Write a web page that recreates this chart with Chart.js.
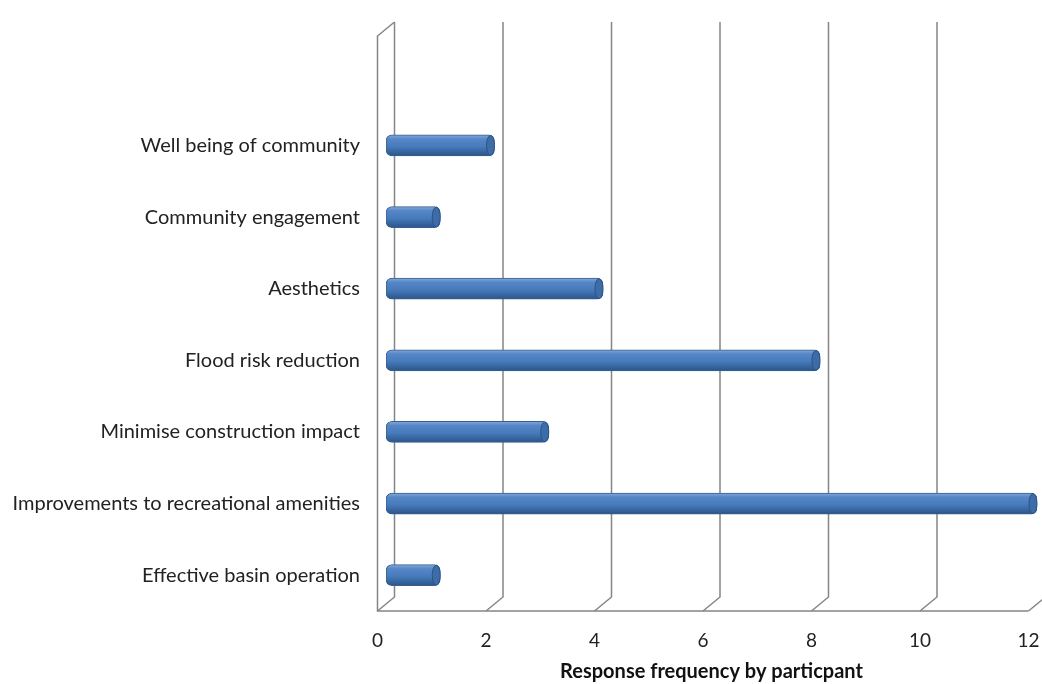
<!DOCTYPE html>
<html>
<head>
<meta charset="utf-8">
<title>Response frequency</title>
<script src="https://cdn.jsdelivr.net/npm/chart.js@4/dist/chart.umd.min.js"></script>
<style>
    html, body { margin: 0; padding: 0; background: #fff; }
    #wrap { width: 1042px; height: 684px; }
</style>
</head>
<body>
<div id="wrap"><canvas id="chart"></canvas></div>
<script>
// top slot is empty in the original, it just leaves room above the bars
const categories = [
    '',
    'Well being of community',
    'Community engagement',
    'Aesthetics',
    'Flood risk reduction',
    'Minimise construction impact',
    'Improvements to recreational amenities',
    'Effective basin operation'
];
const responses = [null, 2, 1, 4, 8, 3, 12, 1];
const xTicks = [0, 2, 4, 6, 8, 10, 12];
const axisTitle = 'Response frequency by particpant';

const DEPTH_X = 8.5;   // half the depth of the fake 3D box, sideways
const DEPTH_Y = 14;    // full depth, vertical
const BAR_H = 21;

// gradient so the bars look like cylinders
function cylinderFill(context) {
    const chart = context.chart;
    const y = chart.scales.y;
    if (!y || context.type !== 'data') return '#4f81bd';
    const cy = y.getPixelForValue(context.dataIndex);
    if (!Number.isFinite(cy)) return '#4f81bd';
    const g = chart.ctx.createLinearGradient(0, cy - BAR_H / 2, 0, cy + BAR_H / 2);
    g.addColorStop(0, '#82a8da');
    g.addColorStop(0.2, '#5686c7');
    g.addColorStop(0.55, '#477bbb');
    g.addColorStop(1, '#2b548a');
    return g;
}

// back wall gridlines, floor edge and left wall
const wallPlugin = {
    id: 'wall3d',
    beforeDatasetsDraw(chart) {
        const { ctx, chartArea: a, scales: { x } } = chart;
        const top = a.top, bot = a.bottom;
        ctx.save();
        ctx.strokeStyle = '#858585';
        ctx.lineWidth = 1.5;
        xTicks.forEach(v => {
            const px = x.getPixelForValue(v);
            ctx.beginPath();
            ctx.moveTo(px + DEPTH_X, top - 16);
            ctx.lineTo(px + DEPTH_X, bot - DEPTH_Y);
            ctx.lineTo(px - DEPTH_X, bot);
            ctx.stroke();
        });
        const x0 = x.getPixelForValue(0) - DEPTH_X;
        const x12 = x.getPixelForValue(12) - DEPTH_X;
        ctx.beginPath();
        ctx.moveTo(x12, bot);
        ctx.lineTo(x0, bot);
        ctx.lineTo(x0, top - 2);
        ctx.lineTo(x0 + 2 * DEPTH_X, top - 16);
        ctx.stroke();
        ctx.restore();
    },
    afterDatasetsDraw(chart) {
        // end caps of the cylinders
        const ctx = chart.ctx;
        ctx.save();
        chart.getDatasetMeta(0).data.forEach((bar, i) => {
            if (responses[i] == null) return;
            ctx.beginPath();
            ctx.ellipse(bar.x - 4, bar.y, 4, BAR_H / 2 - 0.5, 0, 0, Math.PI * 2);
            ctx.fillStyle = '#3d6ca8';
            ctx.fill();
            ctx.strokeStyle = '#2b5488';
            ctx.lineWidth = 1;
            ctx.stroke();
        });
        ctx.restore();
    }
};

new Chart(document.getElementById('chart').getContext('2d'), {
    type: 'bar',
    data: {
        labels: categories,
        datasets: [{
            data: responses,
            backgroundColor: cylinderFill,
            borderColor: '#36608f',
            borderWidth: 1,
            borderRadius: 6,
            borderSkipped: false,
            barThickness: BAR_H
        }]
    },
    options: {
        indexAxis: 'y',
        responsive: true,
        maintainAspectRatio: false,
        animation: false,
        layout: { padding: { top: 32, left: 0, right: 0, bottom: 0 } },
        plugins: {
            legend: { display: false },
            tooltip: { enabled: false }
        },
        scales: {
            x: {
                min: 0,
                max: 12,
                afterBuildTicks: (scale) => {
                    scale.ticks = xTicks.map(v => ({ value: v }));
                },
                afterFit: (scale) => {
                    scale.height = 73;
                    scale.paddingLeft = 0;
                    scale.paddingRight = 5;
                },
                grid: { display: false, drawTicks: false },
                border: { display: false },
                ticks: {
                    labelOffset: -DEPTH_X,
                    padding: 18,
                    color: '#222',
                    font: { family: 'Lato', size: 19 }
                },
                title: {
                    display: true,
                    text: axisTitle,
                    color: '#111',
                    font: { family: 'Lato', size: 20, weight: 'bold' },
                    padding: { top: 4, bottom: 0 }
                }
            },
            y: {
                afterFit: (scale) => { scale.width = 386; },
                grid: { display: false, drawTicks: false },
                border: { display: false },
                ticks: {
                    padding: 26,
                    color: '#222',
                    font: { family: 'Lato', size: 20 }
                }
            }
        }
    },
    plugins: [wallPlugin]
});
</script>
</body>
</html>
